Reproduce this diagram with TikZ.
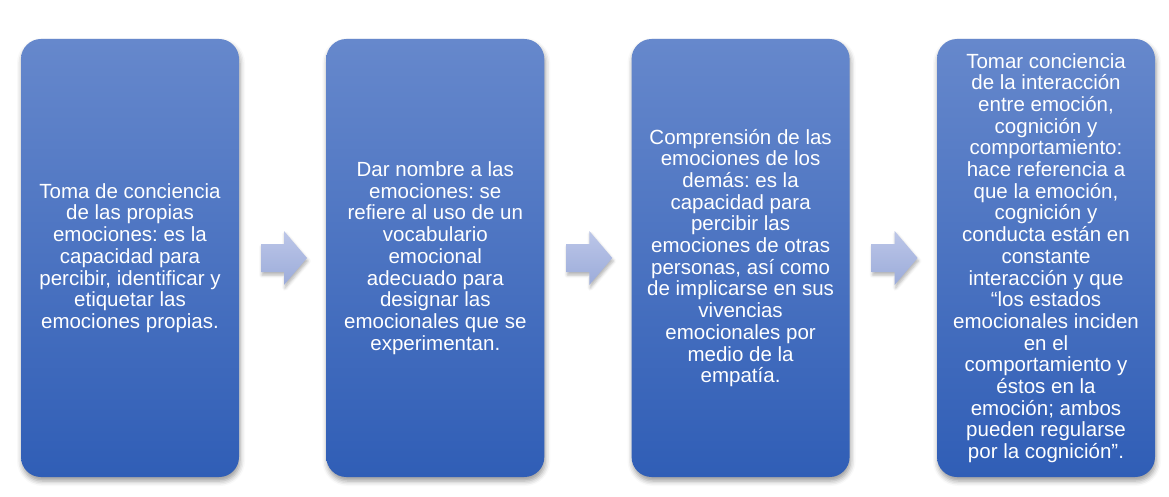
\documentclass[tikz,border=0pt]{standalone}
\usepackage{fontspec}
\setmainfont{Liberation Sans}
\usetikzlibrary{shadows.blur}
\definecolor{boxtop}{RGB}{102,136,204}
\definecolor{boxbot}{RGB}{48,94,182}
\definecolor{arrtop}{RGB}{188,198,232}
\definecolor{arrbot}{RGB}{156,172,218}
\tikzset{
  stagebox/.style={rounded corners=20pt, top color=boxtop, bottom color=boxbot,
    blur shadow={shadow xshift=1pt, shadow yshift=-4pt, shadow blur radius=5pt, shadow opacity=40}},
  stagetext/.style={text=white, align=center, font=\fontsize{20.5}{21.7}\selectfont\frenchspacing, inner sep=0pt},
  flowarrow/.style={top color=arrtop, bottom color=arrbot,
    blur shadow={shadow xshift=1pt, shadow yshift=-3pt, shadow blur radius=3pt, shadow opacity=30}},
}
\begin{document}
\begin{tikzpicture}[x=1pt,y=-1pt]
\useasboundingbox (0,0) rectangle (1169,497);
% boxes
\foreach \i/\x in {1/21,2/326.3,3/631.6,4/937}{
  \path[stagebox] (\x,39) rectangle ++(218,438);
  \coordinate (c\i) at (\x+109,258);
}
\node[stagetext] (t1) at (c1) {Toma de conciencia\\de las propias\\emociones: es la\\capacidad para\\percibir, identificar y\\etiquetar las\\emociones propias.};
\node[stagetext] (t2) at (c2) {Dar nombre a las\\emociones: se\\refiere al uso de un\\vocabulario\\emocional\\adecuado para\\designar las\\emocionales que se\\experimentan.};
\node[stagetext] (t3) at (c3) {Comprensión de las\\emociones de los\\demás: es la\\capacidad para\\percibir las\\emociones de otras\\personas, así como\\de implicarse en sus\\vivencias\\emocionales por\\medio de la\\empatía.};
\node[stagetext] (t4) at (c4) {Tomar conciencia\\de la interacción\\entre emoción,\\cognición y\\comportamiento:\\hace referencia a\\que la emoción,\\cognición y\\conducta están en\\constante\\interacción y que\\“los estados\\emocionales inciden\\en el\\comportamiento y\\éstos en la\\emoción; ambos\\pueden regularse\\por la cognición”.};
% arrows
\foreach \x in {261,566.3,871.6}{
  \path[flowarrow] (\x,244) -- (\x+23,244) -- (\x+23,231) -- (\x+46,258) -- (\x+23,285) -- (\x+23,272) -- (\x,272) -- cycle;
}
\end{tikzpicture}
\end{document}
